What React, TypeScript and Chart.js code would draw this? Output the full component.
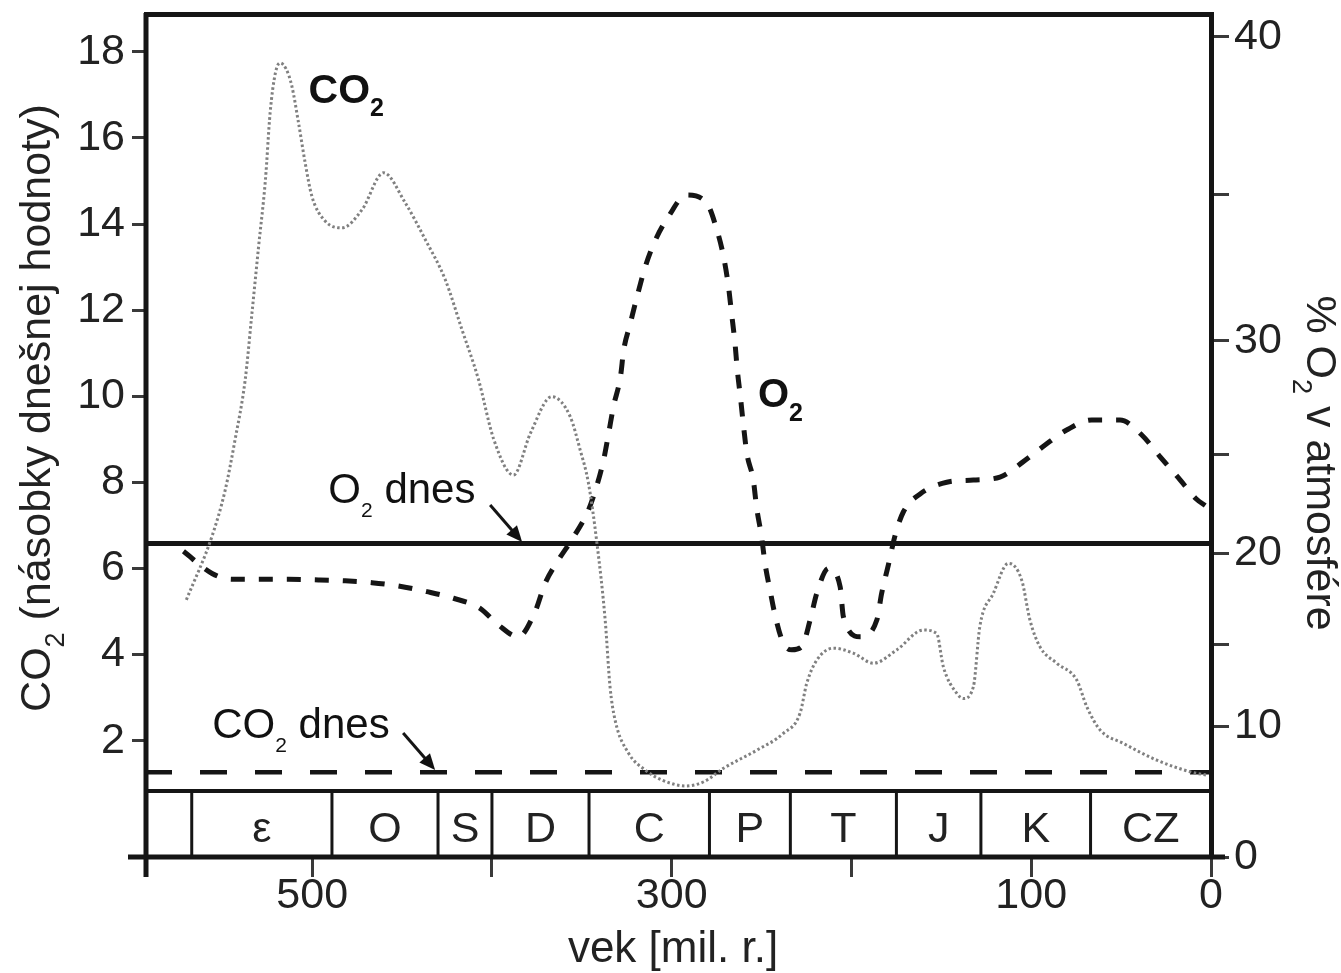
import React, { useEffect, useRef } from 'react';
import { Chart, LinearScale, registerables } from 'chart.js';

Chart.register(...registerables);

const FAMILY = '"Liberation Sans", Arial, Helvetica, sans-serif';

// ---------- axes ----------
const ageAxisMax = 593;
const ageTicks = [500, 400, 300, 200, 100, 0];
const ageTickLabels = [500, 300, 100, 0];

const co2AxisMin = -0.7;
const co2AxisMax = 18.9;
const co2Ticks = [2, 4, 6, 8, 10, 12, 14, 16, 18];

const o2AxisMax = 40.75;
const o2Ticks = [0, 10, 15, 20, 25, 30, 35, 40];
const o2TickLabels = [0, 10, 20, 30, 40];
// The O2 axis of the source figure is not linear: value -> share of the axis height
const o2ScaleValues = [0, 10, 15, 20, 25, 30, 35, 40, 40.75];
const o2ScaleShares = [0, 0.1552, 0.2512, 0.3598, 0.4771, 0.6117, 0.7844, 0.9719, 1];

// ---------- data ----------
const co2Ages = [
  570, 555.8, 548.4, 542.9, 537.3, 533.5, 529.8, 526, 523.4, 520.5, 517.8, 514.5, 511.3,
  507.6, 503.9, 500.2, 492.8, 483.4, 472.3, 460.3, 448.2, 437.1, 426, 416.7, 407.5, 399,
  388, 378.6, 366.7, 356.5, 350.9, 346.3, 341.6, 337, 334.3, 331.5, 324, 314.8, 305, 292,
  282, 271.2, 252.7, 237.9, 228.6, 224.9, 219.3, 210, 198.8, 187.8, 174.8, 160, 152.6,
  148.9, 141.4, 137.8, 132.2, 128.6, 121.1, 112.7, 105.3, 100.7, 95.1, 85.8, 74.7, 69.1,
  61.7, 48.8, 30.2, 11.7, 2.4,
];
const co2Values = [
  5.27, 6.74, 7.82, 8.99, 10.37, 11.93, 13.48, 15.03, 16.58, 17.5, 17.74, 17.6, 17.2,
  16.35, 15.42, 14.65, 14.07, 13.91, 14.33, 15.19, 14.49, 13.64, 12.71, 11.55, 10.39, 9.0,
  8.17, 9.14, 9.99, 9.53, 8.75, 7.98, 6.59, 4.8, 3.25, 2.48, 1.71, 1.32, 1.08, 0.95,
  1.05, 1.36, 1.78, 2.17, 2.64, 3.33, 3.87, 4.15, 4.03, 3.8, 4.11, 4.57, 4.49,
  3.72, 3.1, 2.98, 3.25, 4.65, 5.42, 6.12, 5.73, 4.8, 4.18, 3.8, 3.41, 2.79,
  2.25, 1.94, 1.55, 1.28, 1.2,
];

const o2Ages = [
  571.6, 555.7, 544.7, 528, 513.2, 496.5, 481.6, 466.8, 452, 436.2, 421.4, 406.6, 396.4,
  385.3, 376, 370.4, 363, 354.5, 346.3, 342.4, 337.9, 335.1, 332.4, 328.5, 326.7, 323,
  319.3, 314.7, 309.1, 301.8, 291.8, 280.5, 274.9, 271.2, 268.4, 266.7, 264.8, 263.5,
  261.8, 260, 258.2, 254.6, 252.7, 250, 248.1, 245.3, 242.3, 237.9, 233.2, 227.6, 223,
  219.3, 212.8, 206.3, 204.5, 195.2, 185.9, 183.2, 179.5, 175.7, 171.1, 161.8, 147,
  132.2, 117.4, 104.4, 92.3, 80.3, 66.4, 50.6, 38.5, 28.4, 18.2, 8, 3,
];
const o2Values = [
  20.1, 18.9, 18.58, 18.58, 18.58, 18.55, 18.5, 18.4, 18.22, 17.91, 17.55, 17.0, 16.09,
  15.45, 16.82, 18.37, 19.64, 20.84, 22.19, 23.2, 24.71, 25.92, 27.1, 28.42, 29.59, 30.6,
  31.51, 32.54, 33.45, 34.26, 35.0, 34.72, 33.81, 32.9, 31.85, 30.94, 29.89, 28.71,
  27.54, 26.21, 25.04, 23.7, 22.27, 20.84, 19.45, 17.99, 16.54, 15.09, 14.7, 14.9, 16.36,
  17.82, 19.18, 18.18, 16.54, 15.45, 16.36, 17.82, 19.36, 20.92, 22.1, 23.0, 23.59,
  23.7, 23.85, 24.63, 25.41, 26.07, 26.51, 26.51, 25.85, 24.89, 23.82, 22.73, 22.4,
];

const co2Today = 1.27;
const o2Today = 20.5;

const periodBounds = [593, 567, 489, 430, 400, 346, 279, 234, 175, 128, 67, 0];
const periodNames = ['', 'ε', 'O', 'S', 'D', 'C', 'P', 'T', 'J', 'K', 'CZ'];
const periodBandTop = 0.83; // in CO2 units

// ---------- piecewise O2 scale ----------
function interp(v: number, xs: number[], ys: number[]) {
  const n = xs.length;
  let i = 0;
  if (v <= xs[0]) i = 0;
  else if (v >= xs[n - 1]) i = n - 2;
  else {
    while (i < n - 2 && v > xs[i + 1]) i++;
  }
  const t = (v - xs[i]) / (xs[i + 1] - xs[i]);
  return ys[i] + t * (ys[i + 1] - ys[i]);
}

class PiecewiseScale extends LinearScale {
  static id = 'piecewise';
  static defaults = LinearScale.defaults;
  getPixelForValue(value: any) {
    if (value === null || value === undefined || isNaN(value)) return NaN;
    return this.getPixelForDecimal(interp(value, o2ScaleValues, o2ScaleShares));
  }
  getValueForPixel(pixel: number) {
    return interp(this.getDecimalForPixel(pixel), o2ScaleShares, o2ScaleValues);
  }
}
Chart.register(PiecewiseScale as any);

// ---------- text helpers ----------
type Part = { t: string; sub?: boolean };

function drawParts(
  ctx: CanvasRenderingContext2D,
  parts: Part[],
  x: number,
  y: number,
  size: number,
  subSize: number,
  subDy: number,
  bold: boolean,
  align: 'left' | 'center'
) {
  const mainFont = `${bold ? 'bold ' : ''}${size}px ${FAMILY}`;
  const subFont = `${bold ? 'bold ' : ''}${subSize}px ${FAMILY}`;
  const widths = parts.map((p) => {
    ctx.font = p.sub ? subFont : mainFont;
    return ctx.measureText(p.t).width;
  });
  const total = widths.reduce((a, b) => a + b, 0);
  let cx = align === 'center' ? x - total / 2 : x;
  ctx.textAlign = 'left';
  ctx.textBaseline = 'alphabetic';
  parts.forEach((p, i) => {
    ctx.font = p.sub ? subFont : mainFont;
    ctx.fillText(p.t, cx, y + (p.sub ? subDy : 0));
    cx += widths[i];
  });
}

function arrow(ctx: CanvasRenderingContext2D, x1: number, y1: number, x2: number, y2: number) {
  const ang = Math.atan2(y2 - y1, x2 - x1);
  const head = 16;
  const hw = 7;
  ctx.beginPath();
  ctx.moveTo(x1, y1);
  ctx.lineTo(x2 - Math.cos(ang) * head * 0.8, y2 - Math.sin(ang) * head * 0.8);
  ctx.lineWidth = 3;
  ctx.stroke();
  ctx.beginPath();
  ctx.moveTo(x2, y2);
  ctx.lineTo(x2 - Math.cos(ang) * head - Math.sin(ang) * hw, y2 - Math.sin(ang) * head + Math.cos(ang) * hw);
  ctx.lineTo(x2 - Math.cos(ang) * head + Math.sin(ang) * hw, y2 - Math.sin(ang) * head - Math.cos(ang) * hw);
  ctx.closePath();
  ctx.fill();
}

// annotation anchors (age, CO2-axis value)
const labelNotes = [
  { parts: [{ t: 'CO' }, { t: '2', sub: true }], age: 502, val: 16.81, size: 41, sub: 25, dy: 13, bold: true },
  { parts: [{ t: 'O' }, { t: '2', sub: true }], age: 252, val: 9.75, size: 40, sub: 25, dy: 14, bold: true },
  { parts: [{ t: 'O' }, { t: '2', sub: true }, { t: ' dnes' }], age: 491, val: 7.52, size: 42, sub: 21, dy: 14, bold: false },
  { parts: [{ t: 'CO' }, { t: '2', sub: true }, { t: ' dnes' }], age: 555.6, val: 2.06, size: 42, sub: 21, dy: 14, bold: false },
];
const arrowNotes = [
  { a1: 401, v1: 7.475, a2: 383.2, v2: 6.615 },
  { a1: 449.4, v1: 2.18, a2: 431.6, v2: 1.32 },
];

const TEXT = '#222';

const decorPlugin = {
  id: 'decor',
  afterDatasetsDraw(chart: any) {
    const ctx: CanvasRenderingContext2D = chart.ctx;
    const xs = chart.scales.x;
    const ys = chart.scales.y;
    const { left, right, top, bottom } = chart.chartArea;
    const ink = '#151515';
    ctx.save();
    ctx.strokeStyle = ink;
    ctx.fillStyle = ink;
    ctx.lineCap = 'butt';

    // period band
    const bandTop = ys.getPixelForValue(periodBandTop);
    ctx.lineWidth = 4;
    ctx.beginPath();
    ctx.moveTo(left, bandTop);
    ctx.lineTo(right, bandTop);
    ctx.stroke();
    ctx.lineWidth = 3;
    for (let i = 1; i < periodBounds.length - 1; i++) {
      const px = xs.getPixelForValue(periodBounds[i]);
      ctx.beginPath();
      ctx.moveTo(px, bandTop);
      ctx.lineTo(px, bottom);
      ctx.stroke();
    }
    ctx.fillStyle = TEXT;
    ctx.font = `43px ${FAMILY}`;
    ctx.textAlign = 'center';
    ctx.textBaseline = 'alphabetic';
    for (let i = 0; i < periodNames.length; i++) {
      const cx = (xs.getPixelForValue(periodBounds[i]) + xs.getPixelForValue(periodBounds[i + 1])) / 2;
      ctx.fillText(periodNames[i], cx, bottom - 15);
    }

    // frame
    ctx.lineWidth = 5;
    ctx.beginPath();
    ctx.moveTo(left - 1, top + 1.5);
    ctx.lineTo(right + 3, top + 1.5);
    ctx.moveTo(left + 1, top);
    ctx.lineTo(left + 1, bottom + 20);
    ctx.moveTo(right + 0.5, top);
    ctx.lineTo(right + 0.5, bottom);
    ctx.moveTo(left - 17, bottom);
    ctx.lineTo(right + 14, bottom);
    ctx.stroke();

    // annotations
    ctx.fillStyle = '#111';
    labelNotes.forEach((n) => {
      drawParts(ctx, n.parts, xs.getPixelForValue(n.age), ys.getPixelForValue(n.val), n.size, n.sub, n.dy, n.bold, 'left');
    });
    arrowNotes.forEach((a) => {
      arrow(ctx, xs.getPixelForValue(a.a1), ys.getPixelForValue(a.v1), xs.getPixelForValue(a.a2), ys.getPixelForValue(a.v2));
    });

    // axis titles
    ctx.fillStyle = TEXT;
    ctx.save();
    ctx.translate(50, (top + bottom) / 2 - 27);
    ctx.rotate(-Math.PI / 2);
    drawParts(ctx, [{ t: 'CO' }, { t: '2', sub: true }, { t: ' (násobky dnešnej hodnoty)' }], 0, 0, 43, 27, 14, false, 'center');
    ctx.restore();

    ctx.save();
    ctx.translate(1307, (top + bottom) / 2 + 28);
    ctx.rotate(Math.PI / 2);
    drawParts(ctx, [{ t: '% O' }, { t: '2', sub: true }, { t: ' v atmosfére' }], 0, 0, 43, 27, 14, false, 'center');
    ctx.restore();

    drawParts(ctx, [{ t: 'vek [mil. r.]' }], (left + right) / 2 - 5, 962, 44, 27, 0, false, 'center');

    ctx.restore();
  },
};

export default function App() {
  const canvasRef = useRef<HTMLCanvasElement | null>(null);

  useEffect(() => {
    const canvas = canvasRef.current;
    if (!canvas) return;

    const tickFont = { family: FAMILY, size: 43 };

    const chart = new Chart(canvas, {
      type: 'line',
      data: {
        datasets: [
          {
            label: 'CO2',
            data: co2Ages.map((a, i) => ({ x: a, y: co2Values[i] })),
            yAxisID: 'y',
            borderColor: '#808080',
            borderWidth: 3,
            borderDash: [2.5, 2.5],
            pointRadius: 0,
            cubicInterpolationMode: 'monotone',
            fill: false,
          },
          {
            label: 'O2',
            data: o2Ages.map((a, i) => ({ x: a, y: o2Values[i] })),
            yAxisID: 'y2',
            borderColor: '#151515',
            borderWidth: 5,
            borderDash: [14, 14],
            pointRadius: 0,
            cubicInterpolationMode: 'monotone',
            fill: false,
          },
          {
            label: 'O2 dnes',
            data: [
              { x: ageAxisMax, y: o2Today },
              { x: 0, y: o2Today },
            ],
            yAxisID: 'y2',
            borderColor: '#151515',
            borderWidth: 5,
            pointRadius: 0,
            fill: false,
          },
          {
            label: 'CO2 dnes',
            data: [
              { x: ageAxisMax, y: co2Today },
              { x: 0, y: co2Today },
            ],
            yAxisID: 'y',
            borderColor: '#151515',
            borderWidth: 4.5,
            borderDash: [27, 28],
            pointRadius: 0,
            fill: false,
          },
        ],
      },
      options: {
        responsive: false,
        animation: false,
        events: [],
        layout: { padding: { top: 13, left: 0, right: 0, bottom: 0 } },
        plugins: { legend: { display: false }, tooltip: { enabled: false } },
        scales: {
          x: {
            type: 'linear',
            reverse: true,
            min: 0,
            max: ageAxisMax,
            afterBuildTicks: (s: any) => {
              s.ticks = ageTicks.map((v) => ({ value: v }));
            },
            afterFit: (s: any) => {
              s.height = 116;
              s.paddingLeft = 0;
              s.paddingRight = 0;
              s.paddingTop = 0;
              s.paddingBottom = 0;
            },
            ticks: {
              autoSkip: false,
              maxRotation: 0,
              font: { ...tickFont, lineHeight: 1 },
              color: TEXT,
              padding: -2,
              callback: (v: any) => (ageTickLabels.includes(Number(v)) ? String(v) : ''),
            },
            grid: { drawOnChartArea: false, drawTicks: true, tickLength: 20, tickWidth: 3, tickColor: '#3a3a3a' },
            border: { display: false },
          },
          y: {
            type: 'linear',
            position: 'left',
            min: co2AxisMin,
            max: co2AxisMax,
            afterBuildTicks: (s: any) => {
              s.ticks = co2Ticks.map((v) => ({ value: v }));
            },
            afterFit: (s: any) => {
              s.width = 145;
              s.paddingTop = 0;
              s.paddingBottom = 0;
              s.paddingLeft = 0;
              s.paddingRight = 0;
            },
            ticks: {
              autoSkip: false,
              font: tickFont,
              color: TEXT,
              padding: 7,
              callback: (v: any) => String(v),
            },
            grid: { drawOnChartArea: false, drawTicks: true, tickLength: 13, tickWidth: 3, tickColor: '#3a3a3a' },
            border: { display: false },
          },
          y2: {
            type: 'piecewise',
            position: 'right',
            min: 0,
            max: o2AxisMax,
            afterBuildTicks: (s: any) => {
              s.ticks = o2Ticks.map((v) => ({ value: v }));
            },
            afterFit: (s: any) => {
              s.width = 130;
              s.paddingTop = 0;
              s.paddingBottom = 0;
              s.paddingLeft = 0;
              s.paddingRight = 0;
            },
            ticks: {
              autoSkip: false,
              font: tickFont,
              color: TEXT,
              padding: 5,
              callback: (v: any) => (o2TickLabels.includes(Number(v)) ? String(v) : ''),
            },
            grid: { drawOnChartArea: false, drawTicks: true, tickLength: 18, tickWidth: 3, tickColor: '#3a3a3a' },
            border: { display: false },
          },
        } as any,
      },
      plugins: [decorPlugin],
    } as any);

    return () => {
      chart.destroy();
    };
  }, []);

  return (
    <div style={{ position: 'fixed', left: 0, top: 0, width: 1341, height: 973, background: '#fff' }}>
      <canvas ref={canvasRef} width={1341} height={973} style={{ display: 'block', width: 1341, height: 973 }} />
    </div>
  );
}
